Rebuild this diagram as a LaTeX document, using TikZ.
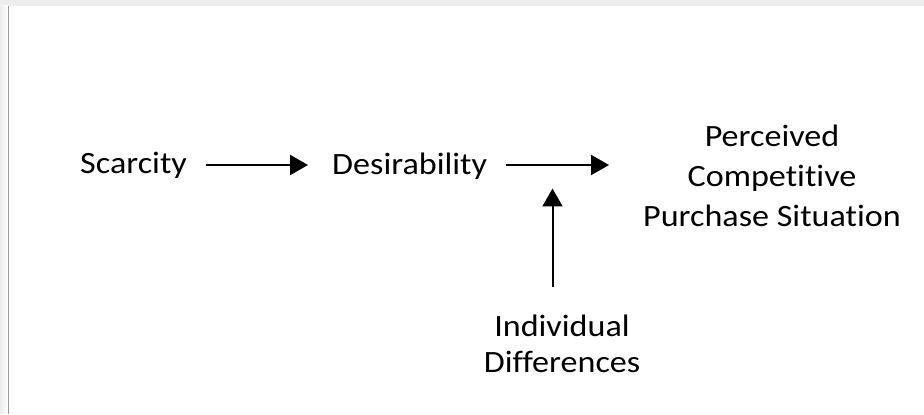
\documentclass[tikz,border=0pt]{standalone}
\usepackage{fontspec}
\setmainfont{Carlito}[Ligatures=NoCommon, RawFeature=-liga]
\usetikzlibrary{arrows.meta}
\definecolor{bandgray}{HTML}{EDEDED}
\definecolor{edgegray}{HTML}{9A9A9A}
\begin{document}
\begin{tikzpicture}[x=1pt,y=1pt,
  lbl/.style={inner sep=0pt, font=\fontsize{31}{40}\selectfont, xscale=1.1, transform shape},
  arr/.style={line width=2pt, -{Triangle[length=18pt,width=20pt]}}]
  % page frame: grey band on top, grey strip and rule on the left
  \fill[white] (0,0) rectangle (924,414);
  \fill[bandgray] (0,408) rectangle (924,414);
  \shade[left color=bandgray, right color=white] (0,0) rectangle (8,408);
  \draw[edgegray, line width=1pt] (8,0) -- (8,408);
  \useasboundingbox (0,0) rectangle (924,414);

  % labels (multi-line nodes are placed by the baseline of their last line)
  \node[lbl, anchor=base west] (scar) at (80,240.5) {Scarcity};
  \node[lbl, anchor=base west] (desi) at (332,239) {Desirability};
  \node[lbl, anchor=base, align=center, font=\fontsize{31}{36}\selectfont] (indiv) at (562,41) {Individual\\Differences};
  \node[lbl, anchor=base, align=center] (perc) at (772,187) {Perceived\\Competitive\\Purchase Situation};

  % arrow end points
  \coordinate (a1s) at (206,249);
  \coordinate (a1e) at (308,249);
  \coordinate (a2s) at (506,249);
  \coordinate (a2e) at (609,249);
  \coordinate (a3s) at (552.5,127);
  \coordinate (a3e) at (552.5,225.5);

  \draw[arr] (a1s) -- (a1e);
  \draw[arr] (a2s) -- (a2e);
  \draw[arr] (a3s) -- (a3e);
\end{tikzpicture}
\end{document}
